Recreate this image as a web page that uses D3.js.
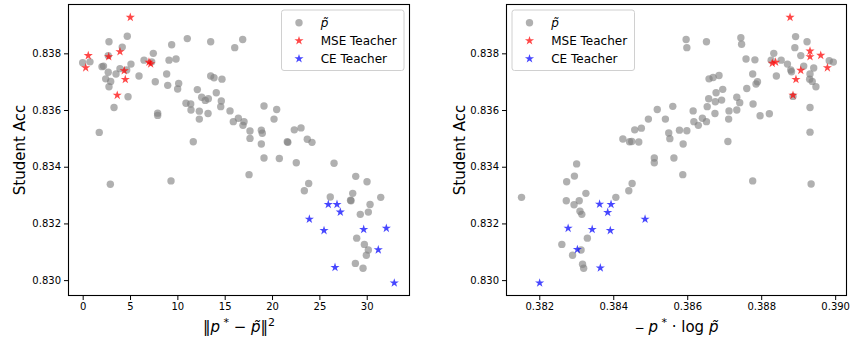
<!DOCTYPE html>
<html>
<head>
<meta charset="utf-8">
<script src="https://cdn.jsdelivr.net/npm/d3@7"></script>
<style>
  body { margin: 0; background: #fff; }
  text { font-family: "DejaVu Sans", sans-serif; }
</style>
</head>
<body>
<svg id="chart" width="851" height="341"></svg>
<script>
// ---- data ----
const yTicks = [0.830, 0.832, 0.834, 0.836, 0.838];
const leftXTicks = [0, 5, 10, 15, 20, 25, 30];
const rightXTicks = [0.382, 0.384, 0.386, 0.388, 0.390];
const legendLabels = ["p\u0303", "MSE Teacher", "CE Teacher"];
const yLabel = "Student Acc";

// left panel: ||p* - p~||^2 vs accuracy
const leftPTilde = [
  [0.0, 0.83767], [0.77, 0.83770], [1.75, 0.83521], [2.04, 0.83753], [2.2, 0.83755],
  [2.78, 0.83841], [2.70, 0.83792], [2.70, 0.83733], [2.43, 0.83710], [2.96, 0.83701],
  [2.78, 0.83682], [3.31, 0.83609], [3.52, 0.83727], [3.94, 0.83746], [4.18, 0.83822],
  [4.65, 0.83741], [4.71, 0.83860], [5.10, 0.83762], [4.79, 0.83647], [5.95, 0.83720],
  [6.48, 0.83776], [7.46, 0.83800], [7.29, 0.83770], [7.67, 0.83700], [7.92, 0.83589],
  [7.92, 0.83581], [8.87, 0.83727], [8.98, 0.83687], [9.12, 0.83776], [9.40, 0.83830],
  [9.86, 0.83780], [10.14, 0.83694], [10.03, 0.83674], [11.05, 0.83852], [10.91, 0.83624],
  [11.41, 0.83621], [11.44, 0.83600], [11.68, 0.83488], [12.11, 0.83672], [12.32, 0.83596],
  [12.32, 0.83568], [12.57, 0.83645], [12.95, 0.83634], [13.27, 0.83640], [13.24, 0.83588],
  [13.52, 0.83841], [13.52, 0.83720], [13.87, 0.83714], [14.11, 0.83661], [14.71, 0.83709],
  [14.64, 0.83632], [14.58, 0.83612], [15.56, 0.83597], [16.06, 0.83820], [16.90, 0.83849],
  [15.91, 0.83559], [16.44, 0.83571], [17.04, 0.83559], [16.93, 0.83546], [17.67, 0.83526],
  [17.67, 0.83500], [18.87, 0.83529], [18.97, 0.83518], [18.87, 0.83480], [19.15, 0.83614],
  [20.21, 0.83568], [20.49, 0.83602], [19.15, 0.83431], [20.77, 0.83429], [2.92, 0.83338],
  [9.33, 0.83350], [17.57, 0.83372], [22.35, 0.83530], [23.06, 0.83537], [21.61, 0.83488],
  [21.67, 0.83486], [23.72, 0.83497], [24.22, 0.83486], [22.56, 0.83414], [26.55, 0.83412],
  [28.84, 0.83366], [30.03, 0.83347], [23.87, 0.83341], [23.41, 0.83315], [26.15, 0.83293],
  [28.52, 0.83306], [28.34, 0.83280], [28.29, 0.83282], [31.48, 0.83292], [30.35, 0.83267],
  [30.17, 0.83240], [29.32, 0.83232], [28.94, 0.83148], [29.75, 0.83126], [30.17, 0.83106],
  [29.96, 0.83088], [28.80, 0.83059], [29.61, 0.83042]
];
const leftMSE = [
  [5.03, 0.83927], [0.59, 0.83792], [0.32, 0.83749], [2.75, 0.83788], [3.94, 0.83806],
  [4.39, 0.83739], [4.50, 0.83708], [3.65, 0.83652], [7.00, 0.83769], [7.18, 0.83763]
];
const leftCE = [
  [25.94, 0.83267], [26.86, 0.83267], [27.21, 0.83240], [23.94, 0.83215], [25.49, 0.83175],
  [29.68, 0.83179], [32.07, 0.83183], [31.22, 0.83107], [26.65, 0.83045], [32.91, 0.82990]
];

// right panel: -p* . log p~ vs accuracy
const rightPTilde = [
  [0.38597, 0.83849], [0.38599, 0.83820], [0.38426, 0.83498], [0.38444, 0.83488], [0.38450, 0.83489],
  [0.38469, 0.83487], [0.38458, 0.83530], [0.38476, 0.83536], [0.38495, 0.83568], [0.38519, 0.83602],
  [0.38561, 0.83613], [0.38541, 0.83568], [0.38550, 0.83519], [0.38553, 0.83499], [0.38579, 0.83529],
  [0.38599, 0.83527], [0.38589, 0.83480], [0.38511, 0.83431], [0.38564, 0.83431], [0.38652, 0.83841],
  [0.38745, 0.83855], [0.38747, 0.83832], [0.38759, 0.83780], [0.38783, 0.83777], [0.38659, 0.83710],
  [0.38670, 0.83715], [0.38686, 0.83722], [0.38678, 0.83661], [0.38696, 0.83673], [0.38658, 0.83640],
  [0.38676, 0.83629], [0.38693, 0.83635], [0.38654, 0.83612], [0.38675, 0.83588], [0.38616, 0.83597],
  [0.38618, 0.83559], [0.38630, 0.83546], [0.38641, 0.83571], [0.38652, 0.83559], [0.38713, 0.83597],
  [0.38712, 0.83568], [0.38734, 0.83645], [0.38742, 0.83626], [0.38734, 0.83600], [0.38761, 0.83676],
  [0.38777, 0.83727], [0.38786, 0.83692], [0.38790, 0.83700], [0.38778, 0.83621], [0.38797, 0.83580],
  [0.38822, 0.83587], [0.38710, 0.83489], [0.38834, 0.83800], [0.38827, 0.83776], [0.38854, 0.83776],
  [0.38841, 0.83720], [0.38871, 0.83762], [0.38880, 0.83741], [0.38882, 0.83735], [0.38893, 0.83859],
  [0.38891, 0.83820], [0.38907, 0.83792], [0.38915, 0.83755], [0.38924, 0.83841], [0.38932, 0.83727],
  [0.38942, 0.83748], [0.38931, 0.83709], [0.38938, 0.83701], [0.38948, 0.83682], [0.38886, 0.83648],
  [0.38932, 0.83609], [0.38932, 0.83522], [0.38984, 0.83774], [0.38995, 0.83769], [0.38588, 0.83372],
  [0.38777, 0.83350], [0.38935, 0.83339], [0.38511, 0.83414], [0.38301, 0.83410], [0.38295, 0.83367],
  [0.38274, 0.83347], [0.38326, 0.83306], [0.38152, 0.83292], [0.38273, 0.83280], [0.38308, 0.83280],
  [0.38294, 0.83266], [0.38451, 0.83341], [0.38442, 0.83315], [0.38407, 0.83292], [0.38310, 0.83243],
  [0.38315, 0.83232], [0.38330, 0.83148], [0.38261, 0.83126], [0.38290, 0.83088], [0.38313, 0.83106],
  [0.38317, 0.83056], [0.38320, 0.83042]
];
const rightMSE = [
  [0.38878, 0.83927], [0.38932, 0.83808], [0.38932, 0.83788], [0.38961, 0.83793], [0.38979, 0.83749],
  [0.38907, 0.83740], [0.38894, 0.83708], [0.38886, 0.83652], [0.38830, 0.83765], [0.38839, 0.83769]
];
const rightCE = [
  [0.38363, 0.83268], [0.38394, 0.83267], [0.38385, 0.83239], [0.38486, 0.83215], [0.38343, 0.83179],
  [0.38392, 0.83175], [0.38278, 0.83183], [0.38303, 0.83108], [0.38365, 0.83043], [0.38201, 0.82990]
];

// ---- drawing ----
const svg = d3.select("#chart");
const plotTop = 4, plotBottom = 296;
const yDomain = [0.82944, 0.83974];

const panels = [
  { left: 68, right: 410, xDomain: [-1.55, 34.57], xTicks: leftXTicks, xFmt: d3.format("d"),
    gray: leftPTilde, mse: leftMSE, ce: leftCE, yLabelX: 25, legendX: 281.5, xLabel: "left" },
  { left: 506, right: 847, xDomain: [0.38110, 0.39032], xTicks: rightXTicks, xFmt: d3.format(".3f"),
    gray: rightPTilde, mse: rightMSE, ce: rightCE, yLabelX: 465, legendX: 512, xLabel: "right" }
];

const grayFill = "#808080";
const star = d3.symbol().type(d3.symbolStar).size(26);

panels.forEach(p => {
  const x = d3.scaleLinear().domain(p.xDomain).range([p.left, p.right]);
  const y = d3.scaleLinear().domain(yDomain).range([plotBottom, plotTop]);
  const g = svg.append("g");

  // points
  g.append("g").selectAll("circle").data(p.gray).join("circle")
    .attr("cx", d => x(d[0])).attr("cy", d => y(d[1])).attr("r", 3.7)
    .attr("fill", grayFill).attr("fill-opacity", 0.62);
  g.append("g").selectAll("path").data(p.mse).join("path")
    .attr("d", star).attr("transform", d => `translate(${x(d[0])},${y(d[1])})`)
    .attr("fill", "#ff0000").attr("fill-opacity", 0.72);
  g.append("g").selectAll("path").data(p.ce).join("path")
    .attr("d", star).attr("transform", d => `translate(${x(d[0])},${y(d[1])})`)
    .attr("fill", "#0000ff").attr("fill-opacity", 0.72);

  // axes
  const xAxis = g.append("g").attr("transform", `translate(0,${plotBottom})`)
    .call(d3.axisBottom(x).tickValues(p.xTicks).tickFormat(p.xFmt).tickSize(4).tickPadding(3));
  const yAxis = g.append("g").attr("transform", `translate(${p.left},0)`)
    .call(d3.axisLeft(y).tickValues(yTicks).tickFormat(d3.format(".3f")).tickSize(4).tickPadding(3));
  [xAxis, yAxis].forEach(a => {
    a.select(".domain").remove();
    a.selectAll("text").attr("font-size", 10).attr("fill", "#000")
      .style("font-family", '"DejaVu Sans", sans-serif');
    a.selectAll("line").attr("stroke", "#000").attr("stroke-width", 1);
  });

  g.append("rect").attr("x", p.left + 0.5).attr("y", plotTop + 0.5)
    .attr("width", p.right - p.left - 1).attr("height", plotBottom - plotTop - 1)
    .attr("fill", "none").attr("stroke", "#000").attr("stroke-width", 1.1);

  // y label
  g.append("text").attr("transform", `translate(${p.yLabelX},${(plotTop + plotBottom) / 2}) rotate(-90)`)
    .attr("text-anchor", "middle").attr("font-size", 15).text(yLabel);

  // x label (mathtext-like)
  const xl = g.append("text").attr("x", (p.left + p.right) / 2).attr("y", 332)
    .attr("text-anchor", "middle").attr("font-size", 15);
  if (p.xLabel === "left") {
    xl.append("tspan").text("\u2016");
    xl.append("tspan").attr("font-style", "italic").text("p");
    xl.append("tspan").attr("font-size", 11).attr("dy", -6).text(" *");
    xl.append("tspan").attr("dy", 6).text(" \u2212 ");
    xl.append("tspan").attr("font-style", "italic").text("p\u0303");
    xl.append("tspan").text("\u2016");
    xl.append("tspan").attr("font-size", 11).attr("dy", -6).text("2");
  } else {
    xl.append("tspan").attr("font-size", 12).text("\u2212 ");
    xl.append("tspan").attr("font-style", "italic").text("p");
    xl.append("tspan").attr("font-size", 11).attr("dy", -6).text(" *");
    xl.append("tspan").attr("dy", 6).text(" \u00b7 log ");
    xl.append("tspan").attr("font-style", "italic").text("p\u0303");
  }

  // legend
  const lg = g.append("g").attr("transform", `translate(${p.legendX},10)`);
  lg.append("rect").attr("width", 122.5).attr("height", 60.5).attr("rx", 2.5)
    .attr("fill", "#fff").attr("fill-opacity", 0.8).attr("stroke", "#d0d0d0");
  const rows = [
    { label: legendLabels[0], color: grayFill, kind: "circle", italic: true },
    { label: legendLabels[1], color: "#ff0000", kind: "star" },
    { label: legendLabels[2], color: "#0000ff", kind: "star" }
  ];
  rows.forEach((r, i) => {
    const cy = 12.7 + i * 18;
    if (r.kind === "circle") {
      lg.append("circle").attr("cx", 17.5).attr("cy", cy).attr("r", 3.7)
        .attr("fill", r.color).attr("fill-opacity", 0.62);
    } else {
      lg.append("path").attr("d", star).attr("transform", `translate(17.5,${cy})`)
        .attr("fill", r.color).attr("fill-opacity", 0.72);
    }
    lg.append("text").attr("x", 39.2).attr("y", cy + 4.3).attr("font-size", 12)
      .attr("font-style", r.italic ? "italic" : null).text(r.label);
  });
});
</script>
</body>
</html>
